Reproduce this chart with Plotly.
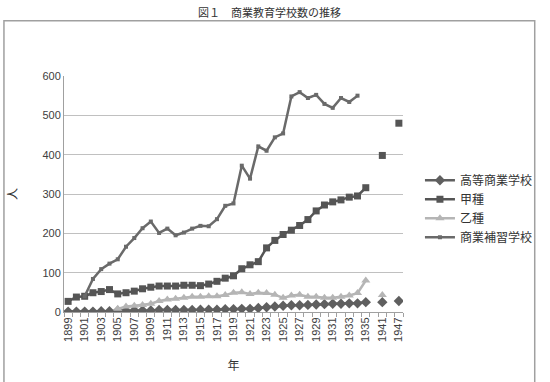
import plotly.graph_objects as go

years = [str(y) for y in range(1899, 1936)] + ["1940", "1941", "1946", "1947"]
tick_labels = [y if i % 2 == 0 else "" for i, y in enumerate(years)]

koto = [1, 1, 1, 1, 2, 2,
        3, 3, 4, 4, 4, 5, 5, 5, 5, 5, 6, 6, 6, 7, 7,
        8, 8, 10, 12, 14, 16, 17, 17, 18, 19, 20, 21, 21, 22, 22, 25,
        None, 25, None, 28]
koshu = [27, 38, 40, 49, 52, 57, 46, 49, 53, 59, 63, 66, 66, 66, 68, 68, 67, 71, 78, 86, 92, 110, 120, 128, 163, 182, 197, 208,
         220, 235, 257, 272, 280, 285, 292, 295, 316, None, 398, None, 480]
otsushu = [None, None, None, None, None, None, 8, 14, 16, 18, 21, 28, 32, 34, 36, 39, 39, 40, 40, 43, 49, 50, 46, 49, 48, 44,
           36, 42, 44, 39, 39, 36, 36, 39, 42, 48, 80, None, 43, None, None]
hoshu = [None, None, 40, 84, 109, 123, 134, 166, 188, 213, 230, 201, 212, 195, 202, 212, 219, 218, 236, 270, 276, 372, 339,
         421, 410, 444, 454, 548, 559, 544, 552, 529, 519, 544, 534, 550, None, None, None, None, None]

names = ["高等商業学校", "甲種", "乙種", "商業補習学校"]

jp = "Noto Sans CJK JP, Liberation Sans, sans-serif"

fig = go.Figure()
fig.add_trace(go.Scatter(x=years, y=koto, name=names[0], mode="lines+markers",
                         line=dict(color="#5f5f5f", width=2.5),
                         marker=dict(symbol="diamond", size=8, color="#5f5f5f")))
fig.add_trace(go.Scatter(x=years, y=koshu, name=names[1], mode="lines+markers",
                         line=dict(color="#555555", width=2.5),
                         marker=dict(symbol="square", size=7, color="#555555")))
fig.add_trace(go.Scatter(x=years, y=otsushu, name=names[2], mode="lines+markers",
                         line=dict(color="#b5b5b5", width=2.5),
                         marker=dict(symbol="triangle-up", size=8, color="#b5b5b5")))
fig.add_trace(go.Scatter(x=years, y=hoshu, name=names[3], mode="lines+markers",
                         line=dict(color="#6a6a6a", width=2.5),
                         marker=dict(symbol="square", size=4, color="#6a6a6a")))

fig.update_layout(
    width=550, height=382,
    margin=dict(l=63, r=137, t=76, b=67),
    paper_bgcolor="white", plot_bgcolor="white",
    font=dict(family=jp, size=11, color="#404040"),
    showlegend=True,
    legend=dict(x=1.05, y=0.62, xanchor="left", yanchor="top",
                font=dict(family=jp, size=12, color="#333333"),
                tracegroupgap=0, itemwidth=30, bgcolor="rgba(0,0,0,0)"),
    xaxis=dict(type="category", categoryorder="array", categoryarray=years,
               tickvals=years, ticktext=tick_labels, tickangle=-90,
               tickson="boundaries", ticks="outside", ticklen=4, tickcolor="#a0a0a0",
               showline=True, linecolor="#a0a0a0", linewidth=1, showgrid=False,
               tickfont=dict(family="Liberation Sans, sans-serif", size=11, color="#404040"),
               range=[-0.5, len(years) - 0.5],
               title=dict(text="年", font=dict(family=jp, size=12, color="#333333"), standoff=20)),
    yaxis=dict(range=[0, 600], dtick=100, showgrid=True, gridcolor="#c0c0c0", gridwidth=1,
               showline=True, linecolor="#a0a0a0", linewidth=1, zeroline=False,
               ticks="", tickfont=dict(family="Liberation Sans, sans-serif", size=11, color="#404040"),
               title=dict(text="人", font=dict(family=jp, size=12, color="#333333"), standoff=22)),
    shapes=[dict(type="rect", xref="paper", yref="paper",
                 x0=(1 - 63) / 350, x1=(549 - 63) / 350,
                 y0=(315 - 390) / 239, y1=(315 - 20) / 239,
                 line=dict(color="#a0a0a0", width=1.5), fillcolor="rgba(0,0,0,0)", layer="below")],
    annotations=[dict(text="図１　商業教育学校数の推移", xref="paper", yref="paper",
                      x=(275 - 63) / 350, y=(315 - 1) / 239, xanchor="center", yanchor="top",
                      showarrow=False, font=dict(family=jp, size=11, color="#333333"))],
)

fig.write_html("out.html")
